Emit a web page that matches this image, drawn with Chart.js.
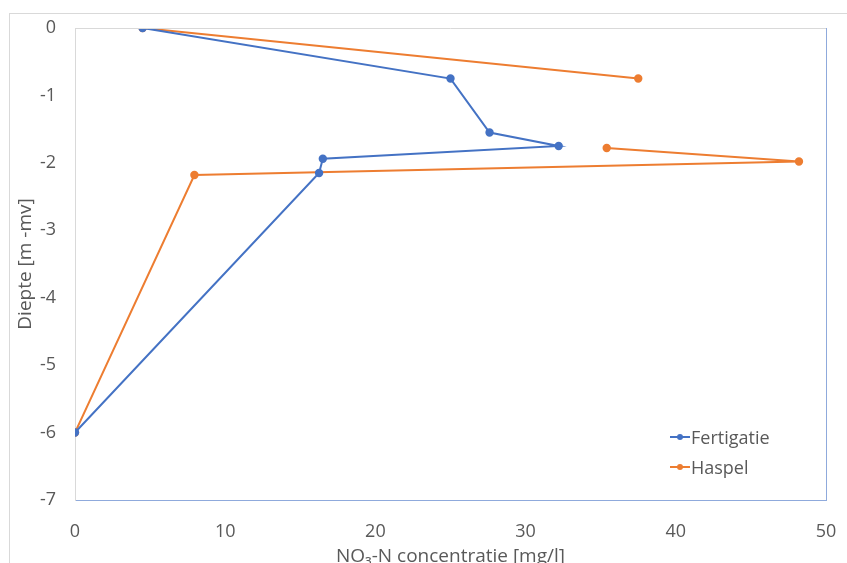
<!DOCTYPE html>
<html lang="nl">
<head>
  <meta charset="UTF-8">
  <title>NO3-N concentratie</title>
  <script src="https://cdn.jsdelivr.net/npm/chart.js"></script>
  <style>
    html, body {
      margin: 0;
      padding: 0;
      background: #fff;
      overflow: hidden;
    }
    #wrap {
      position: relative;
      width: 847px;
      height: 563px;
    }
    #frame {
      position: absolute;
      left: 9px;
      top: 13px;
      width: 900px;
      height: 600px;
      border: 1px solid #d9d9d9;
    }
    #legend {
      position: absolute;
      left: 670px;
      top: 422px;
      font-family: "Open Sans", sans-serif;
      font-size: 18px;
      color: #595959;
    }
    #legend div {
      display: flex;
      align-items: center;
      height: 30px;
    }
    .sw {
      position: relative;
      width: 20px;
      height: 2px;
      margin-right: 1px;
    }
    .sw::after {
      content: "";
      position: absolute;
      left: 7px;
      top: -2px;
      width: 6px;
      height: 6px;
      border-radius: 50%;
      background: inherit;
    }
  </style>
</head>
<body>
  <div id="wrap">
    <div id="frame"></div>
    <canvas id="chart" width="847" height="563"></canvas>
    <div id="legend">
      <div><span class="sw" style="background:#4472C4"></span>Fertigatie</div>
      <div><span class="sw" style="background:#ED7D31"></span>Haspel</div>
    </div>
  </div>

  <script>
    // data (NO3-N in mg/l, depth in m -mv)
    const fertX = [4.5, 25.0, 27.6, 32.2, 16.5, 16.25, 0];
    const fertY = [0, -0.75, -1.55, -1.75, -1.94, -2.15, -6];
    const haspX = [4.5, 37.5, null, 35.4, 48.2, 7.95, 0];
    const haspY = [0, -0.75, null, -1.78, -1.98, -2.18, -6];
    const xTicks = [0, 10, 20, 30, 40, 50];
    const yTicks = [0, -1, -2, -3, -4, -5, -6, -7];

    const toPoints = (xs, ys) => xs.map((x, i) => ({ x: x, y: ys[i] }));

    // top (gray) and right (blue) edges of the plot area
    const plotBorder = {
      id: 'plotBorder',
      afterDraw(chart) {
        const { ctx, chartArea: a } = chart;
        ctx.save();
        ctx.lineWidth = 1;
        ctx.strokeStyle = '#d9d9d9';
        ctx.beginPath();
        ctx.moveTo(a.left, a.top + 0.5);
        ctx.lineTo(a.right, a.top + 0.5);
        ctx.stroke();
        ctx.strokeStyle = '#8faadc';
        ctx.beginPath();
        ctx.moveTo(a.right + 0.5, a.top);
        ctx.lineTo(a.right + 0.5, a.bottom);
        ctx.stroke();
        ctx.restore();
      }
    };

    const tickFont = { family: '"Open Sans", sans-serif', size: 18 };
    const titleFont = { family: '"Open Sans", sans-serif', size: 19 };

    new Chart(document.getElementById('chart'), {
      type: 'scatter',
      data: {
        datasets: [
          {
            label: 'Fertigatie',
            data: toPoints(fertX, fertY),
            showLine: true,
            borderColor: '#4472C4',
            backgroundColor: '#4472C4',
            borderWidth: 2,
            pointRadius: 3.2,
            pointHoverRadius: 3.2
          },
          {
            label: 'Haspel',
            data: toPoints(haspX, haspY),
            showLine: true,
            spanGaps: false,
            borderColor: '#ED7D31',
            backgroundColor: '#ED7D31',
            borderWidth: 2,
            pointRadius: 3.2,
            pointHoverRadius: 3.2
          }
        ]
      },
      options: {
        responsive: false,
        animation: false,
        layout: { padding: { top: 28, right: 21, left: 0, bottom: 0 } },
        plugins: {
          legend: { display: false },
          tooltip: { enabled: false }
        },
        scales: {
          x: {
            type: 'linear',
            min: 0,
            max: 50,
            afterFit(s) { s.height = 63; },
            afterBuildTicks(s) { s.ticks = xTicks.map(v => ({ value: v })); },
            grid: { display: false, drawTicks: true, tickLength: 19 },
            border: { display: true, color: '#8faadc', width: 1 },
            ticks: { color: '#595959', font: tickFont, padding: 2 },
            title: {
              display: true,
              text: 'NO₃-N concentratie [mg/l]',
              color: '#595959',
              font: titleFont,
              padding: { top: 3, bottom: -5 }
            }
          },
          y: {
            type: 'linear',
            min: -7,
            max: 0,
            afterFit(s) { s.width = 75; },
            afterBuildTicks(s) { s.ticks = yTicks.map(v => ({ value: v })); },
            grid: { display: false, drawTicks: true, tickLength: 17 },
            border: { display: true, color: '#d9d9d9', width: 1 },
            ticks: { color: '#595959', font: tickFont, padding: 2 },
            title: {
              display: true,
              text: 'Diepte [m -mv]',
              color: '#595959',
              font: titleFont,
              padding: { top: 14 }
            }
          }
        }
      },
      plugins: [plotBorder]
    });
  </script>
</body>
</html>
